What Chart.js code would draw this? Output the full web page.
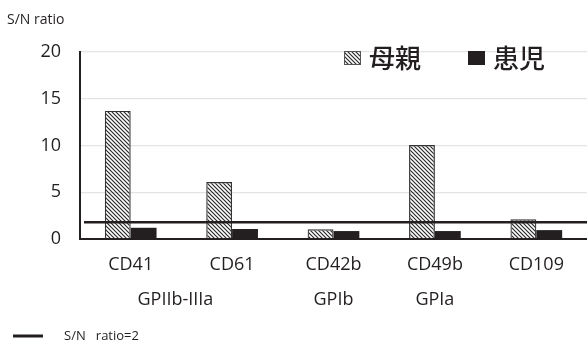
<!DOCTYPE html>
<html>
<head>
<meta charset="utf-8">
<script src="https://cdn.jsdelivr.net/npm/chart.js@4.4.1/dist/chart.umd.min.js"></script>
<style>
  html, body { margin: 0; padding: 0; background: #fff; }
  #wrap { width: 587px; height: 343px; }
</style>
</head>
<body>
<div id="wrap"><canvas id="chart" width="587" height="343"></canvas></div>
<script>
// data
const categories = ['CD41', 'CD61', 'CD42b', 'CD49b', 'CD109'];
const motherValues = [13.7, 6.1, 1.05, 10.05, 2.1];   // 母親
const childValues = [1.2, 1.07, 0.85, 0.85, 0.95];    // 患児
const yTicks = [0, 5, 10, 15, 20];
const thresholdValue = 1.8;   // drawn line labelled "S/N ratio=2"
const groupLabels = [
    { text: 'GPIIb-IIIa', from: 0, to: 1 },
    { text: 'GPIb', from: 2, to: 2 },
    { text: 'GPIa', from: 3, to: 3 }
];

const FONT = '"Open Sans", "Noto Sans", sans-serif';
const CJK = '"Noto Sans CJK JP", sans-serif';
const INK = '#231f20';

// hatched fill for 母親
function makeHatch() {
    const c = document.createElement('canvas');
    c.width = 4; c.height = 4;
    const g = c.getContext('2d');
    g.strokeStyle = '#2a2a2a';
    g.lineWidth = 1.2;
    g.beginPath();
    g.moveTo(-1, -1); g.lineTo(5, 5);
    g.moveTo(-1, 3); g.lineTo(1, 5);
    g.moveTo(3, -1); g.lineTo(5, 1);
    g.stroke();
    return document.getElementById('chart').getContext('2d').createPattern(c, 'repeat');
}
const hatch = makeHatch();

const extras = {
    id: 'extras',
    afterDraw(chart) {
        const ctx = chart.ctx;
        const x = chart.scales.x;
        const y = chart.scales.y;
        const area = chart.chartArea;
        ctx.save();

        // threshold line
        const ty = y.getPixelForValue(thresholdValue);
        ctx.strokeStyle = INK;
        ctx.lineWidth = 2.5;
        ctx.beginPath();
        ctx.moveTo(area.left + 4, ty);
        ctx.lineTo(area.right, ty);
        ctx.stroke();

        // y title
        ctx.fillStyle = INK;
        ctx.font = '14px ' + FONT;
        ctx.textBaseline = 'middle';
        ctx.textAlign = 'left';
        ctx.fillText('S/N ratio', 7, 20);

        // second row of category labels
        ctx.font = '18px ' + FONT;
        ctx.textAlign = 'center';
        groupLabels.forEach(gl => {
            const cx = (x.getPixelForValue(gl.from) + x.getPixelForValue(gl.to)) / 2;
            ctx.fillText(gl.text, cx - (gl.from !== gl.to ? 6 : 0), 300);
        });

        // legend inside plot
        const items = [
            { label: '母親', fill: hatch, x: 344 },
            { label: '患児', fill: INK, x: 468 }
        ];
        ctx.font = '500 26px ' + CJK;
        ctx.textAlign = 'left';
        items.forEach(it => {
            ctx.fillStyle = '#fff';
            ctx.fillRect(it.x, 51, 17, 14);
            ctx.fillStyle = it.fill;
            ctx.fillRect(it.x, 51, 17, 14);
            if (it.fill === hatch) {
                ctx.strokeStyle = '#555';
                ctx.lineWidth = 1;
                ctx.strokeRect(it.x + 0.5, 51.5, 16, 13);
            }
            ctx.fillStyle = INK;
            ctx.fillText(it.label, it.x + 25, 58);
        });

        // bottom legend for the line
        ctx.strokeStyle = INK;
        ctx.lineWidth = 3;
        ctx.beginPath();
        ctx.moveTo(13, 336);
        ctx.lineTo(43, 336);
        ctx.stroke();
        ctx.fillStyle = INK;
        ctx.font = '13px ' + FONT;
        ctx.fillText('S/N   ratio=2', 64, 336);

        ctx.restore();
    }
};

new Chart(document.getElementById('chart'), {
    type: 'bar',
    data: {
        labels: categories,
        datasets: [
            {
                label: '母親',
                data: motherValues,
                backgroundColor: hatch,
                borderColor: '#333',
                borderWidth: 1.2,
                categoryPercentage: 0.51,
                barPercentage: 1
            },
            {
                label: '患児',
                data: childValues,
                backgroundColor: INK,
                borderWidth: 0,
                categoryPercentage: 0.51,
                barPercentage: 1
            }
        ]
    },
    options: {
        responsive: false,
        animation: false,
        layout: { padding: { top: 52, right: 0, left: 0, bottom: 0 } },
        plugins: {
            legend: { display: false },
            tooltip: { enabled: false }
        },
        scales: {
            x: {
                grid: { display: false, drawTicks: false },
                border: { color: INK, width: 2 },
                ticks: {
                    color: INK,
                    font: { family: FONT, size: 18 },
                    padding: 15
                },
                afterFit(scale) { scale.height = 104; }
            },
            y: {
                min: 0,
                max: 20,
                afterBuildTicks(scale) { scale.ticks = yTicks.map(v => ({ value: v })); },
                grid: { color: '#e4e4e4', lineWidth: 1.2, drawTicks: false },
                border: { color: INK, width: 2 },
                ticks: {
                    color: INK,
                    font: { family: FONT, size: 18 },
                    padding: 19
                },
                afterFit(scale) { scale.width = 80; }
            }
        }
    },
    plugins: [extras]
});
</script>
</body>
</html>
